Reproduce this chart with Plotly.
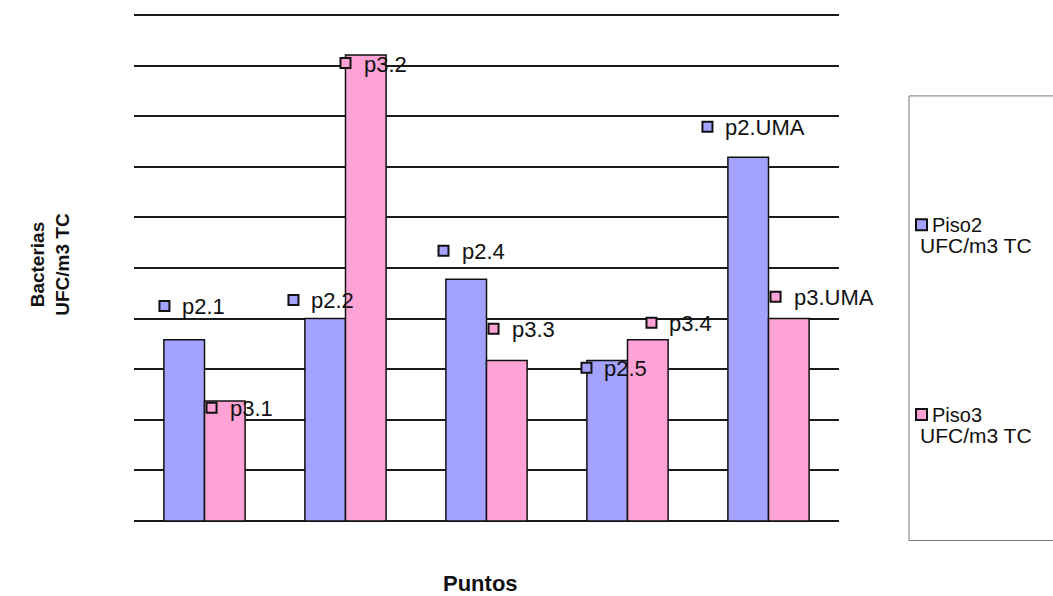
import plotly.graph_objects as go

# ---- data ----
categories = ["1", "2", "3", "4", "5"]
piso2_values = [3.58, 4.0, 4.78, 3.17, 7.19]
piso3_values = [2.37, 9.21, 3.17, 3.58, 4.0]
piso2_labels = ["p2.1", "p2.2", "p2.4", "p2.5", "p2.UMA"]
piso3_labels = ["p3.1", "p3.2", "p3.3", "p3.4", "p3.UMA"]
series_names = ["Piso2", "Piso3"]
series_unit = "UFC/m3 TC"
y_title_lines = ["Bacterias", "UFC/m3 TC"]
x_title = "Puntos"

# ---- label placement (layout offsets, category units / value units) ----
piso2_label_dx = [-0.284, -0.369, -0.305, -0.291, -0.433]
piso2_label_dy = [0.67, 0.37, 0.56, -0.14, 0.60]
piso3_label_dx = [0.05, 0.0, 0.05, 0.17, 0.05]
piso3_label_dy = [-0.13, -0.16, 0.63, 0.34, 0.43]

BLUE = "#A3A3FF"
PINK = "#FFA3D6"
FONT = "Liberation Sans, Arial, sans-serif"
BAR_W = 0.288

# plot-area geometry in screen pixels
FIG_W, FIG_H = 1053, 596
PLOT_L, PLOT_W = 134, 705
PLOT_T, PLOT_H = 14, 508.5
PLOT_B = PLOT_T + PLOT_H

idx = list(range(len(categories)))

fig = go.Figure()
fig.add_trace(go.Bar(x=idx, y=piso2_values, width=BAR_W, offset=-BAR_W,
                     marker=dict(color=BLUE, line=dict(color="#111", width=1.5)),
                     name=series_names[0], showlegend=False))
fig.add_trace(go.Bar(x=idx, y=piso3_values, width=BAR_W, offset=0,
                     marker=dict(color=PINK, line=dict(color="#111", width=1.5)),
                     name=series_names[1], showlegend=False))

annotations = []
for vals, labs, dxs, dys, col in [
    (piso2_values, piso2_labels, piso2_label_dx, piso2_label_dy, BLUE),
    (piso3_values, piso3_labels, piso3_label_dx, piso3_label_dy, PINK),
]:
    lx = [i + d for i, d in zip(idx, dxs)]
    ly = [v + d for v, d in zip(vals, dys)]
    fig.add_trace(go.Scatter(x=lx, y=ly, mode="markers", cliponaxis=False,
                             marker=dict(symbol="square", size=10, color=col,
                                         line=dict(color="#111", width=2)),
                             showlegend=False, hoverinfo="skip"))
    for x, y, t in zip(lx, ly, labs):
        annotations.append(dict(x=x, y=y, xref="x", yref="y", text=t,
                                showarrow=False, xanchor="left", yanchor="middle",
                                xshift=16, yshift=-1,
                                font=dict(family=FONT, size=22, color="#111")))


def px2paper_x(px):
    return (px - PLOT_L) / PLOT_W


def px2paper_y(py):
    return (PLOT_B - py) / PLOT_H


# ---- custom legend (box runs off the right edge) ----
bx0, bx1 = px2paper_x(909), px2paper_x(1100)
by0, by1 = px2paper_y(541), px2paper_y(96)
box_line = dict(color="#777", width=1)
shapes = [
    dict(type="line", xref="paper", yref="paper", x0=bx0, x1=bx0, y0=by0, y1=by1, line=box_line),
    dict(type="line", xref="paper", yref="paper", x0=bx0, x1=bx1, y0=by1, y1=by1, line=box_line),
    dict(type="line", xref="paper", yref="paper", x0=bx0, x1=bx1, y0=by0, y1=by0, line=box_line),
]
legend_rows = [225, 415]
for name, col, row in zip(series_names, [BLUE, PINK], legend_rows):
    shapes.append(dict(type="rect", xref="paper", yref="paper",
                       xsizemode="pixel", ysizemode="pixel",
                       xanchor=px2paper_x(921.5), yanchor=px2paper_y(row),
                       x0=-5.5, x1=5.5, y0=-5.5, y1=5.5,
                       fillcolor=col, line=dict(color="#111", width=2)))
    annotations.append(dict(x=px2paper_x(930), y=px2paper_y(row), xref="paper", yref="paper",
                            text=name, showarrow=False, xanchor="left", yanchor="middle",
                            font=dict(family=FONT, size=20, color="#111")))
    annotations.append(dict(x=px2paper_x(918), y=px2paper_y(row + 21), xref="paper", yref="paper",
                            text=series_unit, showarrow=False, xanchor="left", yanchor="middle",
                            font=dict(family=FONT, size=21, color="#111")))

# axis titles
annotations.append(dict(x=px2paper_x(50), y=px2paper_y(265), xref="paper", yref="paper",
                        text="<b>" + "<br>".join(y_title_lines) + "</b>", textangle=-90,
                        showarrow=False, xanchor="center", yanchor="middle",
                        font=dict(family=FONT, size=19, color="#111")))
annotations.append(dict(x=px2paper_x(480), y=px2paper_y(584), xref="paper", yref="paper",
                        text="<b>" + x_title + "</b>", showarrow=False,
                        xanchor="center", yanchor="middle",
                        font=dict(family=FONT, size=22, color="#111")))

fig.update_layout(
    width=FIG_W, height=FIG_H,
    margin=dict(l=PLOT_L, r=FIG_W - PLOT_L - PLOT_W,
                t=PLOT_T, b=FIG_H - PLOT_T - PLOT_H),
    paper_bgcolor="white", plot_bgcolor="white",
    barmode="overlay",
    showlegend=False,
    annotations=annotations, shapes=shapes,
    xaxis=dict(range=[-0.5, 4.5], showticklabels=False, showgrid=False,
               zeroline=False, showline=False, ticks=""),
    yaxis=dict(range=[-0.02, 10.02], tick0=0, dtick=1, showticklabels=False, showgrid=True,
               gridcolor="#1a1a1a", gridwidth=1.5, zeroline=False, ticks=""),
)

fig.write_html("out.html", config={"displayModeBar": False},
               post_script="document.body.style.margin='0';document.body.style.overflow='hidden';")
